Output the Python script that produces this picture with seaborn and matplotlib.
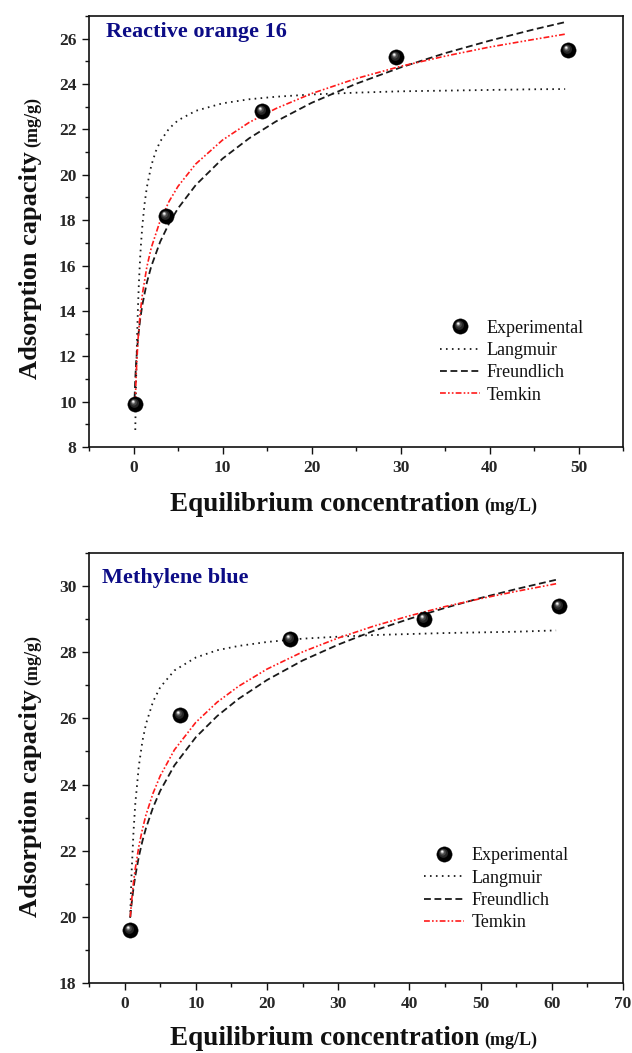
import numpy as np
import pandas as pd
import matplotlib
matplotlib.use("Agg")
import matplotlib.pyplot as plt
import seaborn as sns
from matplotlib.path import Path
from matplotlib.lines import Line2D
from matplotlib.legend_handler import HandlerTuple
from matplotlib.ticker import MultipleLocator

sns.set_theme(style="ticks")
plt.rcParams['font.family'] = ['Liberation Serif', 'DejaVu Serif']

# ---------------- data: Reactive orange 16 ----------------
ro_exp_c = [0.2, 3.6, 14.4, 29.5, 48.8]
ro_exp_q = [9.9, 18.2, 22.8, 25.2, 25.5]

ro_lang_c = [0.2, 0.25, 0.3, 0.4, 0.5, 0.6, 0.75, 0.85, 1.0, 1.25, 1.5, 2.0, 2.5, 3.0, 4.0, 5.0,
             7.0, 10.0, 13.0, 16.0, 20.0, 25.0, 30.0, 35.0, 40.0, 45.0, 48.5]
ro_lang_q = [8.75, 10.03, 11.10, 12.82, 14.13, 15.17, 16.37, 17.00, 17.78, 18.74, 19.45, 20.41,
             21.03, 21.47, 22.04, 22.40, 22.82, 23.15, 23.33, 23.44, 23.54, 23.62, 23.68, 23.71,
             23.74, 23.77, 23.78]

ro_freu_c = [0.12, 0.2, 0.3, 0.5, 0.75, 1.0, 1.5, 2.0, 3.0, 4.0, 5.0, 7.0, 10.0, 13.0, 16.0,
             20.0, 25.0, 30.0, 35.0, 40.0, 45.0, 48.5]
ro_freu_q = [10.14, 11.01, 11.76, 12.77, 13.63, 14.28, 15.25, 15.97, 17.05, 17.86, 18.52, 19.55,
             20.71, 21.61, 22.35, 23.17, 24.01, 24.73, 25.36, 25.91, 26.41, 26.73]

ro_temk_c = [0.2, 0.3, 0.5, 0.75, 1.0, 1.5, 2.0, 3.0, 4.0, 5.0, 7.0, 10.0, 13.0, 16.0, 20.0,
             25.0, 30.0, 35.0, 40.0, 45.0, 48.5]
ro_temk_q = [9.99, 11.19, 12.70, 13.89, 14.74, 15.94, 16.79, 17.98, 18.83, 19.49, 20.48, 21.53,
             22.31, 22.92, 23.58, 24.24, 24.78, 25.23, 25.63, 25.97, 26.20]

# ---------------- data: Methylene blue ----------------
mb_exp_c = [0.8, 7.8, 23.3, 42.0, 61.0]
mb_exp_q = [19.6, 26.1, 28.4, 29.0, 29.4]

mb_lang_c = [0.78, 0.9, 1.0, 1.25, 1.5, 2.0, 2.5, 3.0, 4.0, 5.0, 7.0, 10.0, 13.0, 16.0, 20.0,
             25.0, 30.0, 35.0, 40.0, 45.0, 50.0, 55.0, 60.6]
mb_lang_q = [19.97, 20.82, 21.42, 22.57, 23.42, 24.56, 25.31, 25.83, 26.51, 26.94, 27.45, 27.84,
             28.06, 28.19, 28.31, 28.41, 28.47, 28.52, 28.55, 28.58, 28.60, 28.62, 28.66]

mb_freu_c = [0.8, 0.9, 1.0, 1.25, 1.5, 2.0, 2.5, 3.0, 4.0, 5.0, 7.0, 10.0, 13.0, 16.0, 20.0,
             25.0, 30.0, 35.0, 40.0, 45.0, 50.0, 55.0, 60.6]
mb_freu_q = [20.00, 20.23, 20.43, 20.87, 21.23, 21.82, 22.29, 22.68, 23.31, 23.81, 24.58, 25.43,
             26.07, 26.59, 27.16, 27.75, 28.23, 28.65, 29.01, 29.34, 29.64, 29.91, 30.19]

mb_temk_c = [0.8, 0.9, 1.0, 1.25, 1.5, 2.0, 2.5, 3.0, 4.0, 5.0, 7.0, 10.0, 13.0, 16.0, 20.0,
             25.0, 30.0, 35.0, 40.0, 45.0, 50.0, 55.0, 60.6]
mb_temk_q = [20.00, 20.27, 20.52, 21.04, 21.46, 22.13, 22.65, 23.08, 23.74, 24.26, 25.05, 25.88,
             26.49, 26.97, 27.49, 28.01, 28.43, 28.79, 29.10, 29.38, 29.62, 29.84, 30.07]

legend_labels = ["Experimental", "Langmuir", "Freundlich", "Temkin"]
titles = ["Reactive orange 16", "Methylene blue"]
xlabel_main, xlabel_unit = "Equilibrium concentration", "(mg/L)"
ylabel_main, ylabel_unit = "Adsorption capacity", "(mg/g)"

# ---------------- styling ----------------
W_PX, H_PX = 632, 1053
fig = plt.figure(figsize=(W_PX / 100, H_PX / 100), dpi=100)
fig.patch.set_facecolor("white")

ax1 = fig.add_axes([89 / W_PX, 1 - 447 / H_PX, (623 - 89) / W_PX, (447 - 16) / H_PX])
ax2 = fig.add_axes([89 / W_PX, 1 - 983 / H_PX, (623 - 89) / W_PX, (983 - 553) / H_PX])

LANG_STYLE = dict(color="#1a1a1a", lw=1.3, linestyle=(0, (0.9, 2.4)))
FREU_STYLE = dict(color="#1a1a1a", lw=1.3, linestyle=(0, (3.8, 2.0)))
TEMK_STYLE = dict(color="#ff1a1a", lw=1.2, linestyle=(0, (3.5, 1.3, 1.0, 1.3, 1.0, 1.3)))

# glossy sphere marker built from layered circles
def hl_marker(cx, cy, r):
    circ = Path.circle(center=(cx, cy), radius=r)
    verts = np.vstack([[[0.5, 0.5]], circ.vertices])
    codes = np.concatenate([[Path.MOVETO], circ.codes])
    return Path(verts, codes)

SPHERE_LAYERS = [
    (hl_marker(-0.07, 0.08, 0.30), "#262626"),
    (hl_marker(-0.11, 0.13, 0.20), "#4a4a4a"),
    (hl_marker(-0.14, 0.17, 0.12), "#9a9a9a"),
    (hl_marker(-0.15, 0.19, 0.065), "#f4f4f4"),
]
MSIZE = 11  # points


def draw_sphere_points(ax, c, q):
    df = pd.DataFrame({"c": c, "q": q})
    sns.scatterplot(data=df, x="c", y="q", ax=ax, marker="o", s=MSIZE ** 2,
                    color="black", edgecolor="black", linewidth=0.3, zorder=5, legend=False)
    for k, (m, col) in enumerate(SPHERE_LAYERS):
        sns.scatterplot(data=df, x="c", y="q", ax=ax, marker=m, s=MSIZE ** 2,
                        color=col, linewidth=0, zorder=6 + k, legend=False)


def draw_line(ax, c, q, style):
    df = pd.DataFrame({"c": c, "q": q})
    sns.lineplot(data=df, x="c", y="q", ax=ax, estimator=None, sort=False, legend=False,
                 **style)


panels = [
    (ax1, titles[0], (ro_exp_c, ro_exp_q), (ro_lang_c, ro_lang_q), (ro_freu_c, ro_freu_q),
     (ro_temk_c, ro_temk_q), (-5, 55), (8, 27.0), (0.657, 0.198), (0.032, 0.951)),
    (ax2, titles[1], (mb_exp_c, mb_exp_q), (mb_lang_c, mb_lang_q), (mb_freu_c, mb_freu_q),
     (mb_temk_c, mb_temk_q), (-5, 70), (18, 31.0), (0.628, 0.218), (0.025, 0.931)),
]

for ax, title, exp, lang, freu, temk, xlim, ylim, legpos, tpos in panels:
    draw_line(ax, *lang, LANG_STYLE)
    draw_line(ax, *freu, FREU_STYLE)
    draw_line(ax, *temk, TEMK_STYLE)
    draw_sphere_points(ax, *exp)

    ax.set_xlim(*xlim)
    ax.set_ylim(*ylim)
    ax.xaxis.set_major_locator(MultipleLocator(10))
    ax.xaxis.set_minor_locator(MultipleLocator(5))
    ax.yaxis.set_major_locator(MultipleLocator(2))
    ax.yaxis.set_minor_locator(MultipleLocator(1))
    ax.set_xlabel("")
    ax.set_ylabel("")
    for sp in ax.spines.values():
        sp.set_visible(True)
        sp.set_linewidth(1.2)
        sp.set_color("#111111")
    ax.tick_params(axis="both", which="major", direction="out", length=5, width=1.0,
                   color="#111111", labelsize=12.5, pad=4, top=False, right=False)
    ax.tick_params(axis="both", which="minor", direction="out", length=2.8, width=1.0,
                   color="#111111", top=False, right=False)
    for lab in ax.get_xticklabels() + ax.get_yticklabels():
        lab.set_fontweight("bold")
    ax.set_facecolor("white")

    ax.text(tpos[0], tpos[1], title, transform=ax.transAxes, fontsize=16,
            fontweight="bold", color="#0c0c86", ha="left", va="baseline")

    handles = [
        tuple([Line2D([], [], marker="o", markersize=MSIZE, color="black", linestyle="none",
                      markeredgewidth=0.3)] +
              [Line2D([], [], marker=m, markersize=MSIZE, color=col, linestyle="none",
                      markeredgewidth=0) for m, col in SPHERE_LAYERS]),
        Line2D([], [], **LANG_STYLE),
        Line2D([], [], **FREU_STYLE),
        Line2D([], [], **TEMK_STYLE),
    ]
    leg = ax.legend(handles, legend_labels, loc="center left", bbox_to_anchor=legpos,
                    frameon=False, fontsize=13, handlelength=2.2, handletextpad=0.4,
                    labelspacing=0.3, borderpad=0, borderaxespad=0,
                    handler_map={tuple: HandlerTuple(ndivide=1, pad=0)})
    for t in leg.get_texts():
        t.set_fontweight("normal")
        t.set_color("#111111")


# two-part axis labels (large main text + smaller unit)
def place_label(main, unit, size_main, size_unit, centre, baseline, vertical):
    renderer = fig.canvas.get_renderer()
    rot = 90 if vertical else 0
    kw = dict(fontweight="bold", rotation=rot, rotation_mode="anchor", ha="left",
              va="baseline", color="#111111")
    t1 = fig.text(0, 0, main, fontsize=size_main, **kw)
    t2 = fig.text(0, 0, unit, fontsize=size_unit, **kw)
    b1 = t1.get_window_extent(renderer)
    b2 = t2.get_window_extent(renderer)
    gap = 5
    l1 = b1.height if vertical else b1.width
    l2 = b2.height if vertical else b2.width
    start = centre - (l1 + gap + l2) / 2
    if vertical:
        t1.set_position((baseline / W_PX, start / H_PX))
        t2.set_position((baseline / W_PX, (start + l1 + gap) / H_PX))
    else:
        t1.set_position((start / W_PX, baseline / H_PX))
        t2.set_position(((start + l1 + gap) / W_PX, baseline / H_PX))


fig.canvas.draw()
# x labels: centre x, baseline y (figure px from bottom)
place_label(xlabel_main, xlabel_unit, 19.5, 13, 354, H_PX - 511, False)
place_label(xlabel_main, xlabel_unit, 19.5, 13, 354, H_PX - 1045, False)
# y labels: centre y (from bottom), baseline x
place_label(ylabel_main, ylabel_unit, 19, 13, H_PX - 238, 37, True)
place_label(ylabel_main, ylabel_unit, 19, 13, H_PX - 776, 37, True)

fig.savefig("out.png", dpi=100, facecolor="white")
